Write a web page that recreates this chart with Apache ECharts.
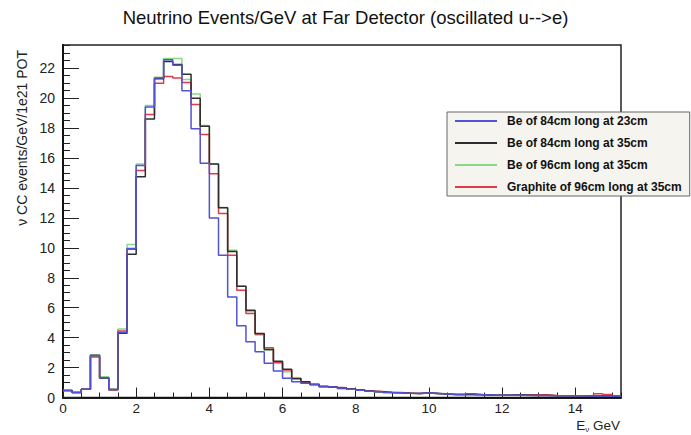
<!DOCTYPE html>
<html>
<head>
<meta charset="utf-8">
<script src="https://cdn.jsdelivr.net/npm/echarts@6/dist/echarts.min.js"></script>
<style>
html,body{margin:0;padding:0;background:#fff;}
#c{width:691px;height:435px;}
</style>
</head>
<body>
<div id="c"></div>
<script>
// Bin left edges (GeV), bin width 0.25, last edge 15.25
const binWidth = 0.25;
const nBins = 61;
const xTickLabels = [0, 2, 4, 6, 8, 10, 12, 14];
const yTickLabels = [0, 2, 4, 6, 8, 10, 12, 14, 16, 18, 20, 22];

const seriesNames = [
  'Be of 84cm long at 23cm',
  'Be of 84cm long at 35cm',
  'Be of 96cm long at 35cm',
  'Graphite of 96cm long at 35cm'
];

const be84at23 = [0.47,0.33,0.55,2.8,1.32,0.53,4.35,9.95,15.5,19.4,21.35,22.57,22.2,20.5,17.95,15.65,12.0,9.5,6.72,4.79,3.72,3.05,2.28,1.77,1.28,1.05,0.95,0.85,0.72,0.68,0.6,0.55,0.48,0.42,0.38,0.33,0.32,0.28,0.27,0.3,0.27,0.24,0.2,0.2,0.25,0.18,0.16,0.15,0.16,0.15,0.14,0.14,0.13,0.12,0.12,0.11,0.11,0.1,0.1,0.1,0.09];
const be84at35 = [0.47,0.33,0.55,2.8,1.3,0.53,4.3,9.57,14.75,18.6,21.3,22.45,22.25,21.6,20.0,18.12,15.6,12.68,9.75,7.43,5.83,4.28,3.2,2.43,1.88,1.25,1.05,0.88,0.75,0.7,0.62,0.56,0.5,0.44,0.38,0.34,0.32,0.29,0.27,0.3,0.27,0.24,0.2,0.2,0.22,0.18,0.16,0.15,0.15,0.16,0.15,0.14,0.13,0.12,0.12,0.11,0.11,0.1,0.12,0.1,0.09];
const be96at35 = [0.47,0.33,0.55,2.85,1.38,0.55,4.57,10.23,15.6,19.5,21.4,22.65,22.65,21.25,20.27,18.17,15.6,12.7,9.83,7.43,5.75,4.17,3.17,2.35,1.72,1.28,1.0,0.86,0.73,0.68,0.6,0.55,0.48,0.42,0.37,0.33,0.31,0.28,0.27,0.3,0.28,0.25,0.2,0.19,0.22,0.18,0.16,0.15,0.16,0.15,0.14,0.14,0.13,0.12,0.12,0.11,0.11,0.1,0.1,0.1,0.09];
const graphite96at35 = [0.47,0.33,0.55,2.7,1.3,0.5,4.45,9.9,15.17,18.9,21.0,21.45,21.35,21.05,19.57,17.57,14.95,12.3,9.5,7.17,5.61,4.25,3.32,2.32,1.83,1.28,1.0,0.87,0.72,0.68,0.65,0.56,0.48,0.43,0.4,0.34,0.33,0.3,0.27,0.3,0.26,0.24,0.2,0.2,0.22,0.18,0.16,0.15,0.16,0.18,0.19,0.19,0.18,0.14,0.12,0.12,0.11,0.12,0.25,0.2,0.1];

const colors = {
  blue: '#5252d2',
  black: '#2e2e2e',
  green: '#86d886',
  red: '#e23a4c'
};

const xMax = nBins * binWidth; // 15.25
const yMax = 23.55;

function stepData(vals) {
  const d = vals.map((v, i) => [i * binWidth, v]);
  d.push([vals.length * binWidth, vals[vals.length - 1]]);
  return d;
}

const font = "'Liberation Sans', Arial, Helvetica, sans-serif";

const chart = echarts.init(document.getElementById('c'), null, {renderer: 'svg'});

function histSeries(name, vals, color, z) {
  return {
    name: name,
    type: 'line',
    step: 'end',
    data: stepData(vals),
    showSymbol: false,
    symbol: 'none',
    xAxisIndex: 0,
    yAxisIndex: 0,
    z: z,
    lineStyle: {color: color, width: 1.5},
    itemStyle: {color: color},
    emphasis: {disabled: true},
    animation: false
  };
}

chart.setOption({
  animation: false,
  backgroundColor: '#ffffff',
  title: {
    text: 'Neutrino Events/GeV at Far Detector (oscillated u-->e)',
    left: 'center',
    top: 3,
    textStyle: {fontFamily: font, fontSize: 18.5, fontWeight: 'normal', color: '#111'}
  },
  grid: {
    left: 63, right: 70, top: 45, bottom: 37.5,
    containLabel: false,
    outerBoundsMode: 'none',
    show: true,
    borderColor: '#222',
    borderWidth: 1.5,
    backgroundColor: 'transparent'
  },
  xAxis: [
    {
      type: 'value', min: 0, max: xMax, interval: 2,
      position: 'bottom',
      axisLine: {show: true, lineStyle: {color: '#111', width: 1.5}},
      axisTick: {show: true, inside: true, length: 10, lineStyle: {color: '#222', width: 1}},
      axisLabel: {
        showMaxLabel: false, margin: 4, color: '#222', fontFamily: font, fontSize: 13.5,
        formatter: v => (xTickLabels.indexOf(v) >= 0 ? String(v) : '')
      },
      splitLine: {show: false}
    },
    {
      type: 'value', min: 0, max: xMax, interval: 0.5,
      position: 'bottom',
      axisLine: {show: true, onZero: false, lineStyle: {color: '#111', width: 1.5}},
      axisTick: {show: true, inside: true, length: 5, lineStyle: {color: '#222', width: 1}},
      axisLabel: {show: false},
      splitLine: {show: false}
    }
  ],
  yAxis: [
    {
      type: 'value', min: 0, max: yMax, interval: 2,
      position: 'left',
      axisLine: {show: true, lineStyle: {color: '#111', width: 2}},
      axisTick: {show: true, inside: true, length: 16, lineStyle: {color: '#222', width: 1}},
      axisLabel: {
        showMaxLabel: false, margin: 8, color: '#222', fontFamily: font, fontSize: 14,
        formatter: v => (yTickLabels.indexOf(v) >= 0 ? String(v) : '')
      },
      splitLine: {show: false}
    },
    {
      type: 'value', min: 0, max: yMax, interval: 0.5,
      position: 'left',
      offset: 0,
      axisLine: {show: true, onZero: false, lineStyle: {color: '#111', width: 2}},
      axisTick: {show: true, inside: true, length: 7, lineStyle: {color: '#222', width: 1}},
      axisLabel: {show: false},
      splitLine: {show: false}
    }
  ],
  legend: {
    data: seriesNames,
    orient: 'vertical',
    left: 447,
    top: 112,
    padding: [3, 8, 3, 8],
    itemGap: 10,
    itemWidth: 42,
    itemHeight: 2,
    icon: 'rect',
    backgroundColor: '#f5f4ef',
    borderColor: '#666',
    borderWidth: 1,
    z: 20,
    textStyle: {fontFamily: font, fontSize: 12, fontWeight: 'bold', color: '#111', padding: [0, 0, 0, 5]},
    selectedMode: false
  },
  graphic: [
    {
      type: 'text',
      x: 22, y: 50,
      rotation: Math.PI / 2,
      style: {
        text: 'ν CC events/GeV/1e21 POT',
        textAlign: 'right',
        textVerticalAlign: 'middle',
        fontFamily: font, fontSize: 14, fill: '#222'
      }
    },
    {
      type: 'text',
      x: 620, y: 425,
      style: {
        text: 'E{sub|ν} GeV',
        textAlign: 'right',
        textVerticalAlign: 'middle',
        fontFamily: font, fontSize: 13.5, fill: '#222',
        rich: {sub: {fontSize: 8, fontFamily: font, fill: '#222', padding: [8, 0, 0, 0]}}
      }
    }
  ],
  series: [
    histSeries(seriesNames[2], be96at35, colors.green, 2),
    histSeries(seriesNames[3], graphite96at35, colors.red, 3),
    histSeries(seriesNames[1], be84at35, colors.black, 4),
    histSeries(seriesNames[0], be84at23, colors.blue, 5)
  ]
});
</script>
</body>
</html>
